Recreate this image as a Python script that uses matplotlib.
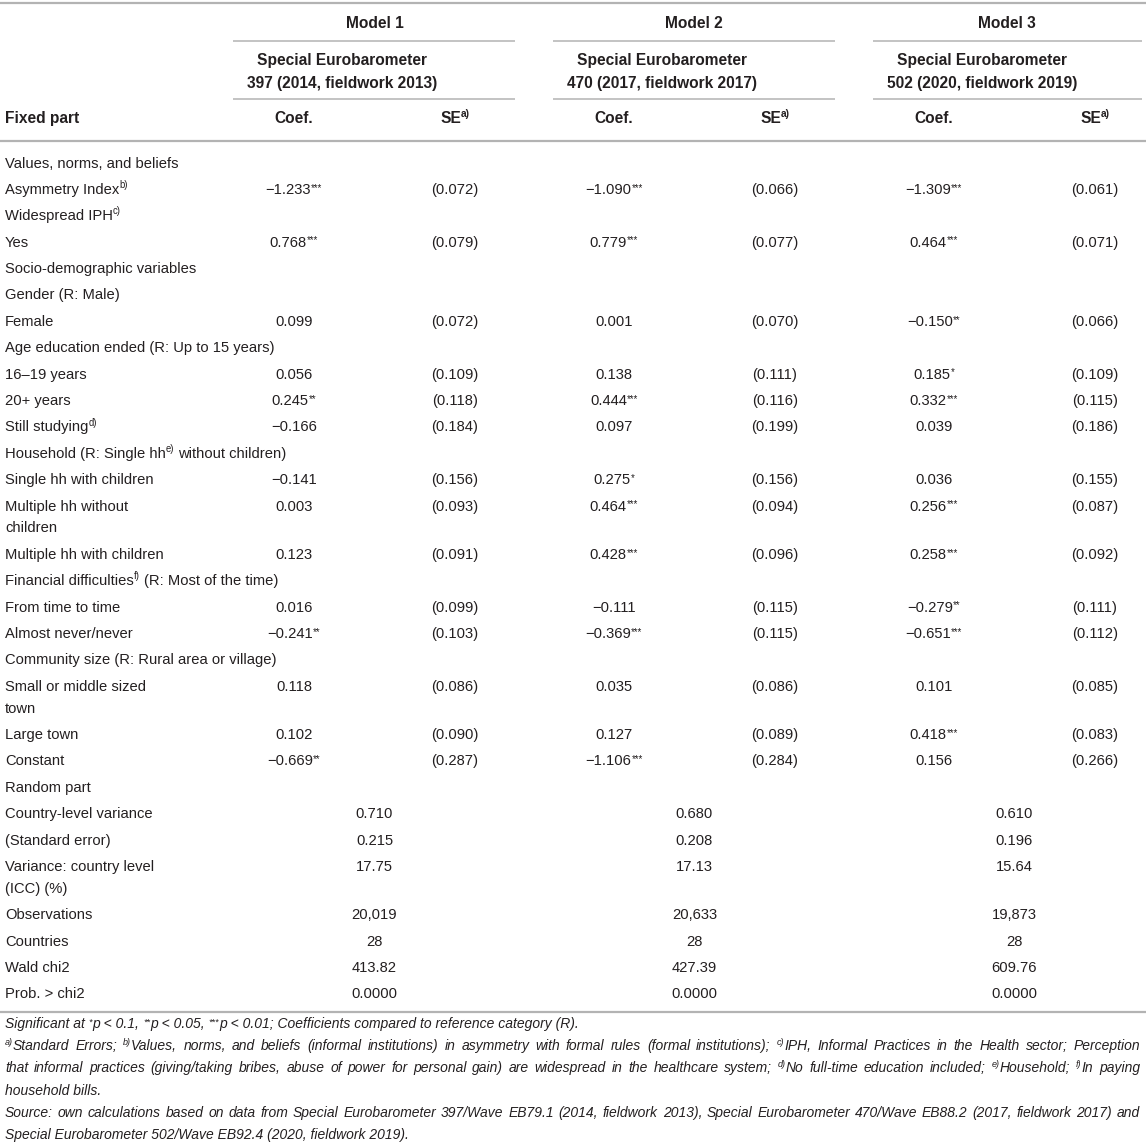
import re
import matplotlib
matplotlib.use('Agg')
import matplotlib.pyplot as plt
from matplotlib.font_manager import FontProperties, fontManager

# ---- table content ----
models = ["Model 1", "Model 2", "Model 3"]
surveys = [["Special Eurobarometer", "397 (2014, fieldwork 2013)"],
           ["Special Eurobarometer", "470 (2017, fieldwork 2017)"],
           ["Special Eurobarometer", "502 (2020, fieldwork 2019)"]]

fixed_labels = [
    "Values, norms, and beliefs",
    "Asymmetry Index^{b)}",
    "Widespread IPH^{c)}",
    "Yes",
    "Socio-demographic variables",
    "Gender (R: Male)",
    "Female",
    "Age education ended (R: Up to 15 years)",
    "16–19 years",
    "20+ years",
    "Still studying^{d)}",
    "Household (R: Single hh^{e)} without children)",
    "Single hh with children",
    "Multiple hh without\nchildren",
    "Multiple hh with children",
    "Financial difficulties^{f)} (R: Most of the time)",
    "From time to time",
    "Almost never/never",
    "Community size (R: Rural area or village)",
    "Small or middle sized\ntown",
    "Large town",
    "Constant",
]

m1_coef = ["", "-1.233***", "", "0.768***", "", "", "0.099", "", "0.056", "0.245**", "-0.166", "",
           "-0.141", "0.003", "0.123", "", "0.016", "-0.241**", "", "0.118", "0.102", "-0.669**"]
m1_se = ["", "0.072", "", "0.079", "", "", "0.072", "", "0.109", "0.118", "0.184", "",
         "0.156", "0.093", "0.091", "", "0.099", "0.103", "", "0.086", "0.090", "0.287"]
m2_coef = ["", "-1.090***", "", "0.779***", "", "", "0.001", "", "0.138", "0.444***", "0.097", "",
           "0.275*", "0.464***", "0.428***", "", "-0.111", "-0.369***", "", "0.035", "0.127", "-1.106***"]
m2_se = ["", "0.066", "", "0.077", "", "", "0.070", "", "0.111", "0.116", "0.199", "",
         "0.156", "0.094", "0.096", "", "0.115", "0.115", "", "0.086", "0.089", "0.284"]
m3_coef = ["", "-1.309***", "", "0.464***", "", "", "-0.150**", "", "0.185*", "0.332***", "0.039", "",
           "0.036", "0.256***", "0.258***", "", "-0.279**", "-0.651***", "", "0.101", "0.418***", "0.156"]
m3_se = ["", "0.061", "", "0.071", "", "", "0.066", "", "0.109", "0.115", "0.186", "",
         "0.155", "0.087", "0.092", "", "0.111", "0.112", "", "0.085", "0.083", "0.266"]

random_labels = ["Random part", "Country-level variance", "(Standard error)",
                 "Variance: country level\n(ICC) (%)", "Observations", "Countries",
                 "Wald chi2", "Prob. > chi2"]
m1_random = ["", "0.710", "0.215", "17.75", "20,019", "28", "413.82", "0.0000"]
m2_random = ["", "0.680", "0.208", "17.13", "20,633", "28", "427.39", "0.0000"]
m3_random = ["", "0.610", "0.196", "15.64", "19,873", "28", "609.76", "0.0000"]

footnotes = [
    "Significant at ^{*}p < 0.1, ^{**}p < 0.05, ^{***}p < 0.01; Coefficients compared to reference category (R).",
    "^{a)}Standard Errors; ^{b)}Values, norms, and beliefs (informal institutions) in asymmetry with formal rules "
    "(formal institutions); ^{c)}IPH, Informal Practices in the Health sector; Perception",
    "that informal practices (giving/taking bribes, abuse of power for personal gain) are widespread in the "
    "healthcare system; ^{d)}No full-time education included; ^{e)}Household; ^{f)}In paying",
    "household bills.",
    "Source: own calculations based on data from Special Eurobarometer 397/Wave EB79.1 (2014, fieldwork 2013), "
    "Special Eurobarometer 470/Wave EB88.2 (2017, fieldwork 2017) and",
    "Special Eurobarometer 502/Wave EB92.4 (2020, fieldwork 2019).",
]
justified = [False, True, True, False, True, False]

# ---- style ----
W, H = 1146, 1144
FS = 10.6
FSB = 11.2  # bold header text runs a little larger
BODY = 'Liberation Sans'
names = {f.name for f in fontManager.ttflist}
FOOT = 'Liberation Sans Narrow' if 'Liberation Sans Narrow' in names else BODY
TXT = '#231f20'
LINE = '#b3b3b3'

group_x = [(233, 515), (553, 835), (873, 1142)]
model_cx = [375, 694, 1007]
survey_cx = [342, 662, 982]
coef_x = [294, 614, 934]
se_x = [455, 775, 1095]

fig = plt.figure(figsize=(W / 100, H / 100), dpi=100)
ax = fig.add_axes([0, 0, 1, 1])
ax.set_xlim(0, W)
ax.set_ylim(H, 0)
ax.axis('off')
renderer = fig.canvas.get_renderer()

_cache = {}


def fprop(size, weight='normal', style='normal', family=BODY):
    return FontProperties(family=family, size=size, weight=weight, style=style)


def tw(s, prop):
    key = (s, hash(prop))
    if key not in _cache:
        t = ax.text(0, 0, 'x' + s + 'x', fontproperties=prop)
        w1 = t.get_window_extent(renderer).width
        t.remove()
        t = ax.text(0, 0, 'xx', fontproperties=prop)
        w0 = t.get_window_extent(renderer).width
        t.remove()
        _cache[key] = w1 - w0
    return _cache[key]


def segs(s):
    parts = re.split(r'\^\{(.*?)\}', s)
    return [(p, i % 2 == 1) for i, p in enumerate(parts) if p]


def rich_width(s, size=FS, **kw):
    pn, ps = fprop(size, **kw), fprop(size * 0.65, **kw)
    return sum(tw(t, ps if sup else pn) for t, sup in segs(s))


def draw_rich(x, y, s, size=FS, ha='left', color=TXT, **kw):
    pn, ps = fprop(size, **kw), fprop(size * 0.65, **kw)
    total = rich_width(s, size, **kw)
    if ha == 'center':
        x -= total / 2
    elif ha == 'right':
        x -= total
    em = size * 100 / 72
    for t, sup in segs(s):
        prop = ps if sup else pn
        lead = len(t) - len(t.lstrip(' '))
        trail = len(t) - len(t.rstrip(' '))
        core = t.strip(' ')
        x += lead * tw(' ', prop)
        if core:
            dy = 0
            if sup:
                dy = 0.22 * em if set(core) == {'*'} else 0.40 * em
            ax.text(x, y - dy, core, fontproperties=prop, color=color,
                    ha='left', va='baseline')
            x += tw(core, prop)
        x += trail * tw(' ', prop)


def num(s):
    s = s.replace('-', '−')
    m = re.match(r'^(.*?)(\*+)$', s)
    return f"{m.group(1)}^{{{m.group(2)}}}" if m else s


def hline(x0, x1, y, lw=1.1):
    ax.plot([x0, x1], [y, y], color=LINE, lw=lw, solid_capstyle='butt')


BL = 5  # baseline offset from visual row centre

# ---- header ----
hline(0, W, 3, lw=1.6)
for (x0, x1), mx, sx, m, sv in zip(group_x, model_cx, survey_cx, models, surveys):
    draw_rich(mx, 23 + BL, m, size=FSB, ha='center', weight='bold')
    hline(x0, x1, 41)
    draw_rich(sx, 60 + BL, sv[0], size=FSB, ha='center', weight='bold')
    draw_rich(sx, 83 + BL, sv[1], size=FSB, ha='center', weight='bold')
    hline(x0, x1, 99)
draw_rich(5, 118 + BL, "Fixed part", size=FSB, weight='bold')
for cx, sx in zip(coef_x, se_x):
    draw_rich(cx, 118 + BL, "Coef.", size=FSB, ha='center', weight='bold')
    draw_rich(sx, 118 + BL, "SE^{a)}", size=FSB, ha='center', weight='bold')
hline(0, W, 141, lw=1.6)

# ---- body ----
STEP, INNER = 26.4, 21.8
y = 162.5
coefs = [m1_coef, m2_coef, m3_coef]
ses = [m1_se, m2_se, m3_se]
for i, lab in enumerate(fixed_labels):
    lines = lab.split('\n')
    for k, ln in enumerate(lines):
        draw_rich(5, y + k * INNER + BL, ln)
    for c, s, cx, sx in zip(coefs, ses, coef_x, se_x):
        if c[i]:
            draw_rich(cx, y + BL, num(c[i]), ha='center')
        if s[i]:
            draw_rich(sx, y + BL, f"({s[i]})", ha='center')
    y += (len(lines) - 1) * INNER + STEP

randoms = [m1_random, m2_random, m3_random]
for i, lab in enumerate(random_labels):
    lines = lab.split('\n')
    for k, ln in enumerate(lines):
        draw_rich(5, y + k * INNER + BL, ln)
    for r, cx, sx in zip(randoms, coef_x, se_x):
        if r[i]:
            draw_rich((cx + sx) / 2, y + BL, r[i], ha='center')
    y += (len(lines) - 1) * INNER + STEP

hline(0, W, 1012, lw=1.6)

# ---- footnotes ----
fkw = dict(style='italic', family=FOOT)
FSF = 10 * 572 / rich_width(footnotes[0], 10, **fkw)
fy = 1024
for note, just in zip(footnotes, justified):
    if just:
        toks = note.split(' ')
        ws = [rich_width(t, FSF, **fkw) for t in toks]
        gap = (1140 - 5 - sum(ws)) / (len(toks) - 1)
        x = 5
        for t, w in zip(toks, ws):
            draw_rich(x, fy + 4, t, size=FSF, **fkw)
            x += w + gap
    else:
        draw_rich(5, fy + 4, note, size=FSF, **fkw)
    fy += 22.2

fig.savefig('out.png', dpi=100, facecolor='white')
